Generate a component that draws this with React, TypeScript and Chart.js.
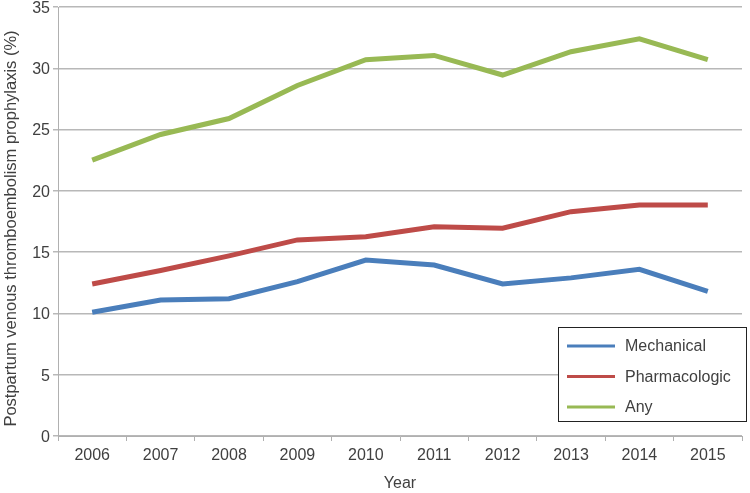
import React, { useEffect, useRef } from "react";
import { Chart, registerables } from "chart.js";

Chart.register(...registerables);

const years = ["2006", "2007", "2008", "2009", "2010", "2011", "2012", "2013", "2014", "2015"];
const mechanical = [10.1, 11.1, 11.2, 12.6, 14.35, 13.95, 12.4, 12.9, 13.6, 11.8];
const pharmacologic = [12.4, 13.5, 14.7, 16.0, 16.25, 17.07, 16.95, 18.3, 18.85, 18.85];
const anyProphylaxis = [22.5, 24.6, 25.9, 28.6, 30.7, 31.05, 29.45, 31.35, 32.4, 30.7];
const seriesNames = ["Mechanical", "Pharmacologic", "Any"];
const seriesColors = ["#4A7EBB", "#BE4B48", "#98B954"];
const yTitle = "Postpartum venous thromboembolism prophylaxis (%)";

const FONT = "'Liberation Sans', Arial, sans-serif";
const TEXT = "#404040";

const legendBoxPlugin = {
  id: "legendBox",
  afterDraw(chart: any) {
    const { ctx, chartArea } = chart;
    const w = 188;
    const h = 94;
    const x = chartArea.right + 4 - w;
    const y = chartArea.bottom - 15 - h;
    ctx.save();
    ctx.fillStyle = "#ffffff";
    ctx.fillRect(x, y, w, h);
    ctx.strokeStyle = "#222222";
    ctx.lineWidth = 1;
    ctx.strokeRect(x + 0.5, y + 0.5, w, h);
    ctx.font = `16px ${FONT}`;
    ctx.textBaseline = "middle";
    ctx.textAlign = "left";
    chart.data.datasets.forEach((ds: any, i: number) => {
      const cy = y + 19 + i * 30.5;
      ctx.strokeStyle = ds.borderColor;
      ctx.lineWidth = 3;
      ctx.beginPath();
      ctx.moveTo(x + 9, cy);
      ctx.lineTo(x + 57, cy);
      ctx.stroke();
      ctx.fillStyle = TEXT;
      ctx.fillText(ds.label, x + 67, cy + 1);
    });
    // y-axis title
    ctx.translate(11, (chartArea.top + chartArea.bottom) / 2 + 7);
    ctx.rotate(-Math.PI / 2);
    ctx.textAlign = "center";
    ctx.font = `16.5px ${FONT}`;
    ctx.fillText(yTitle, 0, 0);
    ctx.restore();
  },
};

export default function App() {
  const ref = useRef<HTMLCanvasElement>(null);
  useEffect(() => {
    document.body.style.margin = "0";
    const values = [mechanical, pharmacologic, anyProphylaxis];
    const chart = new Chart(ref.current!, {
      type: "line",
      data: {
        labels: years,
        datasets: values.map((v, i) => ({
          label: seriesNames[i],
          data: v,
          borderColor: seriesColors[i],
          backgroundColor: seriesColors[i],
          borderWidth: 5,
          pointRadius: 0,
          tension: 0,
          fill: false,
        })),
      },
      options: {
        animation: false,
        responsive: false,
        maintainAspectRatio: false,
        layout: { padding: { top: 7, right: 8, left: 0, bottom: 0 } },
        plugins: { legend: { display: false }, tooltip: { enabled: false } },
        scales: {
          x: {
            offset: true,
            grid: {
              offset: true,
              drawOnChartArea: false,
              drawTicks: true,
              tickLength: 5,
              color: "#b0b0b0",
            },
            border: { color: "#b0b0b0" },
            ticks: { color: TEXT, font: { family: FONT, size: 16 }, padding: 5, maxRotation: 0 },
            title: { display: true, text: "Year", color: TEXT, font: { family: FONT, size: 16 }, padding: { top: 2, bottom: 0 } },
            afterFit(scale: any) {
              scale.height = 57;
              scale.paddingLeft = 0;
              scale.paddingRight = 0;
            },
          },
          y: {
            min: 0,
            max: 35,
            ticks: { stepSize: 5, color: TEXT, font: { family: FONT, size: 16 }, padding: 3, labelOffset: 1.5 },
            grid: { color: "#b8b8b8", lineWidth: 1.5, tickLength: 5 },
            border: { color: "#b0b0b0" },
            title: { display: false, text: yTitle },
            afterFit(scale: any) {
              scale.width = 58;
              scale.paddingTop = 0;
              scale.paddingBottom = 0;
            },
          },
        },
      },
      plugins: [legendBoxPlugin],
    });
    return () => chart.destroy();
  }, []);
  return (
    <div style={{ width: 750, height: 493 }}>
      <canvas ref={ref} width={750} height={493} style={{ width: 750, height: 493 }} />
    </div>
  );
}
